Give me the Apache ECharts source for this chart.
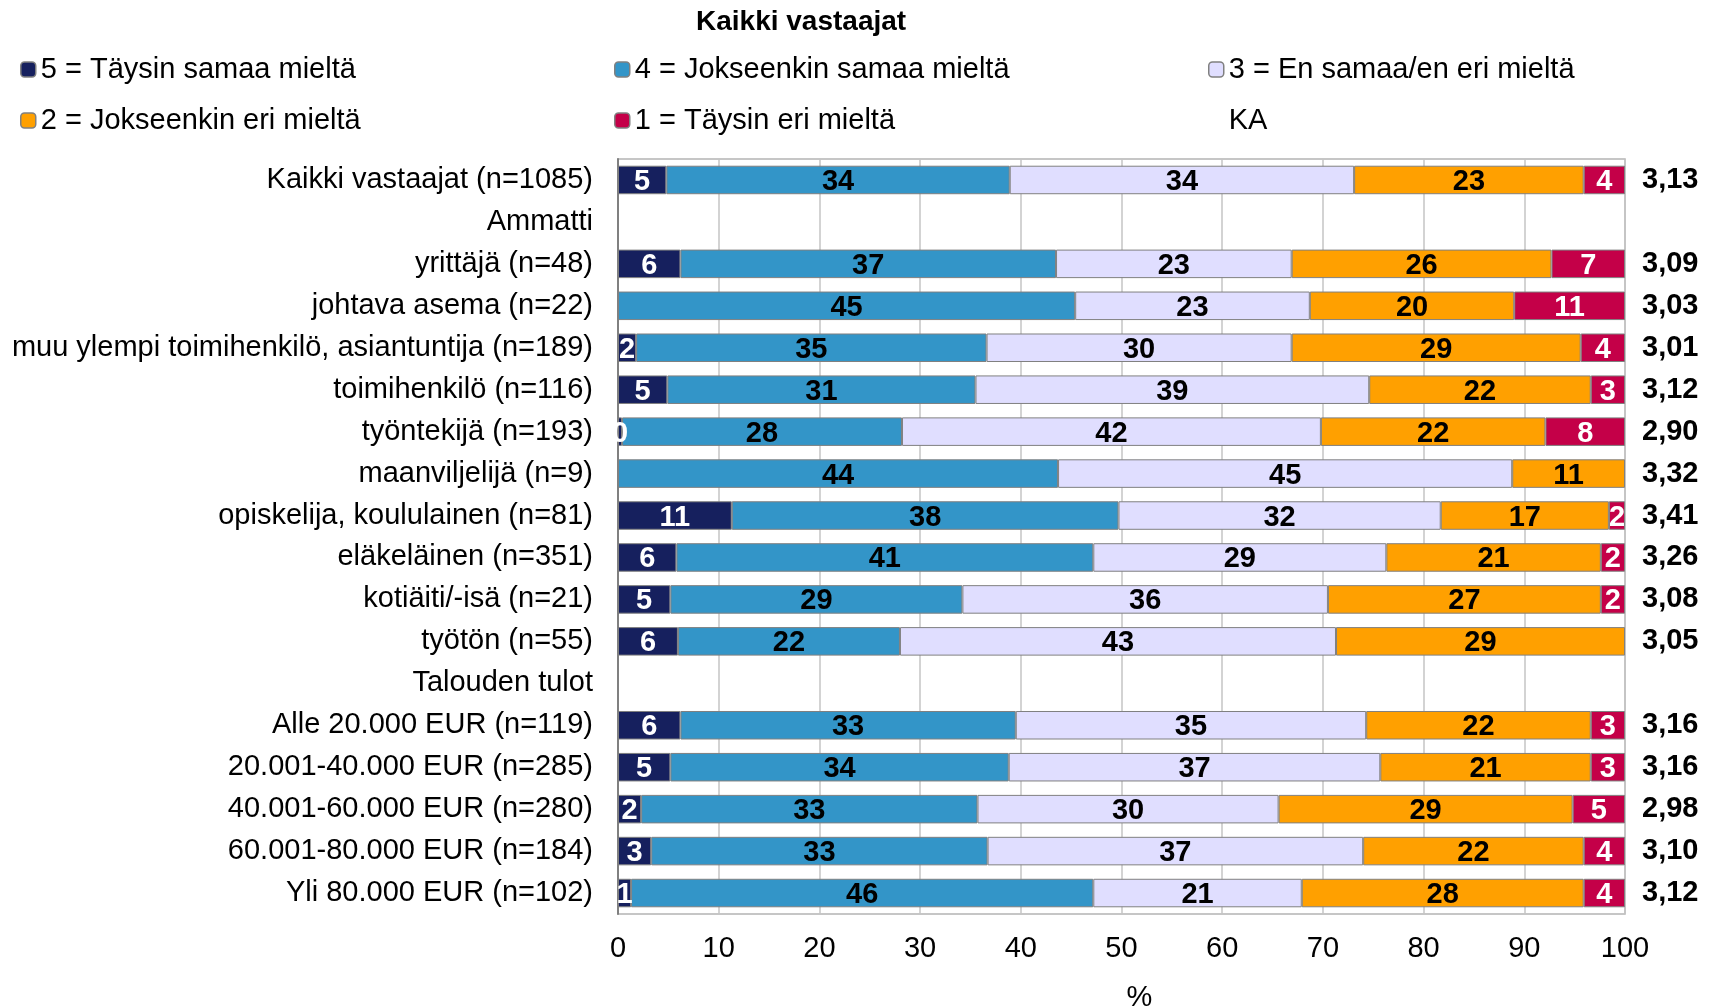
<!DOCTYPE html>
<html>
<head>
<meta charset="utf-8">
<script src="https://cdn.jsdelivr.net/npm/echarts@6/dist/echarts.min.js"></script>
<style>
html,body{margin:0;padding:0;background:#fff;}
#chart{width:1718px;height:1008px;}
</style>
</head>
<body>
<div id="chart"></div>
<script>
const categories = ['Kaikki vastaajat (n=1085)','Ammatti','yrittäjä (n=48)','johtava asema (n=22)','muu ylempi toimihenkilö, asiantuntija (n=189)','toimihenkilö (n=116)','työntekijä (n=193)','maanviljelijä (n=9)','opiskelija, koululainen (n=81)','eläkeläinen (n=351)','kotiäiti/-isä (n=21)','työtön (n=55)','Talouden tulot','Alle 20.000 EUR (n=119)','20.001-40.000 EUR (n=285)','40.001-60.000 EUR (n=280)','60.001-80.000 EUR (n=184)','Yli 80.000 EUR (n=102)'];
const seriesNames = ['5 = Täysin samaa mieltä','4 = Jokseenkin samaa mieltä','3 = En samaa/en eri mieltä','2 = Jokseenkin eri mieltä','1 = Täysin eri mieltä'];
const s5 = [4.8, null, 6.2, null, 1.8, 4.9, 0.4, null, 11.3, 5.8, 5.2, 5.95, null, 6.2, 5.2, 2.3, 3.3, 1.3];
const s4 = [34.1, null, 37.3, 45.4, 34.8, 30.6, 27.8, 43.7, 38.4, 41.4, 29.0, 22.05, null, 33.3, 33.6, 33.4, 33.4, 45.9];
const s3 = [34.2, null, 23.4, 23.3, 30.3, 39.1, 41.6, 45.1, 32.0, 29.1, 36.3, 43.3, null, 34.8, 36.9, 29.9, 37.3, 20.7];
const s2 = [22.8, null, 25.8, 20.3, 28.7, 22.0, 22.3, 11.2, 16.7, 21.3, 27.1, 28.7, null, 22.3, 20.9, 29.2, 21.9, 28.0];
const s1 = [4.1, null, 7.3, 11.0, 4.4, 3.4, 7.9, null, 1.6, 2.4, 2.4, null, null, 3.4, 3.4, 5.2, 4.1, 4.1];
const ka = ['3,13','','3,09','3,03','3,01','3,12','2,90','3,32','3,41','3,26','3,08','3,05','','3,16','3,16','2,98','3,10','3,12'];
const xTicks = [0,10,20,30,40,50,60,70,80,90,100];

const colors = ['#16205E','#3395C8','#E0DEFF','#FFA000','#C40048'];
const labelColors = ['#ffffff','#000000','#000000','#000000','#ffffff'];
const values = [s5,s4,s3,s2,s1];
const FONT = '"Liberation Sans", Arial, sans-serif';

const chart = echarts.init(document.getElementById('chart'), null, {renderer:'canvas'});

const series = values.map((v,i)=>({
  name: seriesNames[i],
  type: 'bar',
  stack: 'total',
  barCategoryGap: '32%',
  data: v,
  itemStyle: {color: colors[i], borderColor: '#808080', borderWidth: 1},
  label: {
    show: true, position: 'inside', offset:[0,2],
    color: labelColors[i], fontFamily: FONT, fontWeight: 'bold', fontSize: 29,
    formatter: p => (p.value == null ? '' : String(Math.round(p.value)))
  },
  emphasis: {disabled: true}
}));
series.push({name:'KA', type:'bar', stack:'total', data: [], itemStyle:{color:'transparent'}});

const legendCommon = {
  orient: 'vertical', itemWidth: 15, itemHeight: 15, itemGap: 22,
  textStyle: {fontFamily: FONT, fontSize: 29, color: '#000'},
  selectedMode: false,
  itemStyle: {borderColor: '#808080', borderWidth: 1.5}
};

chart.setOption({
  animation: false,
  textStyle: {fontFamily: FONT},
  title: {
    text: 'Kaikki vastaajat', left: 691, top: 3,
    textStyle: {fontFamily: FONT, fontWeight: 'bold', fontSize: 28, color: '#000'}
  },
  legend: [
    Object.assign({}, legendCommon, {left: 15, top: 50, data: [seriesNames[0], seriesNames[3]]}),
    Object.assign({}, legendCommon, {left: 609, top: 50, data: [seriesNames[1], seriesNames[4]]}),
    Object.assign({}, legendCommon, {left: 1203, top: 50, data: [seriesNames[2], {name:'KA', icon:'none'}]})
  ],
  grid: {left: 618, right: 93, top: 159, bottom: 94, show: true, borderColor: '#b4b4b4', borderWidth: 1.5, backgroundColor: 'transparent', containLabel: false, outerBoundsMode: 'none'},
  xAxis: {
    type: 'value', min: xTicks[0], max: xTicks[xTicks.length-1], interval: 10,
    name: '%', nameLocation: 'middle', nameGap: 69,
    nameTextStyle: {fontFamily: FONT, fontSize: 29, color: '#000', padding: [0,0,0,36]},
    axisLine: {show: false}, axisTick: {show: false},
    axisLabel: {fontFamily: FONT, fontSize: 29, color: '#000', margin: 20},
    splitLine: {show: true, lineStyle: {color: '#c4c4c4', width: 1.5}}
  },
  yAxis: [
    {
      type: 'category', data: categories, inverse: true,
      axisLine: {show: true, lineStyle: {color: '#808080', width: 2}},
      axisTick: {show: false},
      axisLabel: {fontFamily: FONT, fontSize: 29, color: '#000', margin: 25}
    },
    {
      type: 'category', data: ka, inverse: true, position: 'right',
      axisLine: {show: false}, axisTick: {show: false},
      axisLabel: {fontFamily: FONT, fontSize: 29, fontWeight: 'bold', color: '#000', margin: 17, align: 'left'}
    }
  ],
  series: series
});
</script>
</body>
</html>
